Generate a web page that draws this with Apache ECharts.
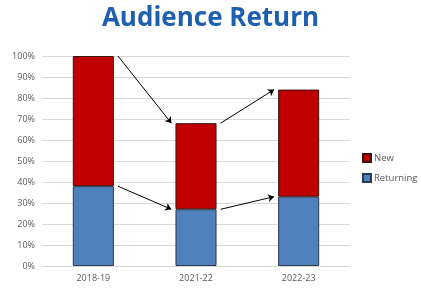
<!DOCTYPE html>
<html><head><meta charset="utf-8">
<script src="https://cdn.jsdelivr.net/npm/echarts@6/dist/echarts.min.js"></script>
<style>html,body{margin:0;padding:0;background:#fff}#c{width:421px;height:290px}</style>
</head><body><div id="c"></div>
<script>
var categories = ['2018-19', '2021-22', '2022-23'];
var returning = [0.38, 0.27, 0.33];
var newAud = [0.62, 0.41, 0.51];
var yTicks = [0, 0.1, 0.2, 0.3, 0.4, 0.5, 0.6, 0.7, 0.8, 0.9, 1.0];

var totals = returning.map(function (r, i) { return r + newAud[i]; });
var off = 0.24;
function arrows(vals) {
  var out = [];
  for (var i = 0; i < vals.length - 1; i++) {
    out.push([{ coord: [i + off, vals[i]] }, { coord: [i + 1 - off, vals[i + 1]] }]);
  }
  return out;
}
var arrowData = arrows(totals).concat(arrows(returning));

var chart = echarts.init(document.getElementById('c'), null, { renderer: 'canvas' });
chart.setOption({
  animation: false,
  title: {
    text: 'Audience Return', left: 'center', top: 1,
    textStyle: { fontFamily: 'Open Sans', fontWeight: 'bold', fontSize: 26, color: '#1F5FB0' }
  },
  legend: {
    orient: 'vertical', left: 362, top: 153, padding: 0, itemWidth: 8, itemHeight: 8, itemGap: 10,
    icon: 'rect',
    data: ['New', 'Returning'],
    textStyle: { fontFamily: 'Open Sans', fontSize: 9.5, color: '#595959', padding: [0, 0, 0, -2] }
  },
  grid: { left: 42, right: 71, top: 56, bottom: 24 },
  xAxis: [{
    type: 'category', data: categories,
    axisLine: { lineStyle: { color: '#d9d9d9' } }, axisTick: { show: false },
    axisLabel: { fontFamily: 'Open Sans', fontSize: 9, color: '#595959', margin: 8 }
  }, {
    type: 'value', min: -0.5, max: 2.5, show: false
  }],
  yAxis: {
    type: 'value', min: 0, max: 1, interval: 0.1,
    axisLine: { show: false }, axisTick: { show: false },
    splitLine: { lineStyle: { color: '#d9d9d9' } },
    axisLabel: {
      fontFamily: 'Open Sans', fontSize: 9, color: '#595959', margin: 7,
      formatter: function (v) { return Math.round(v * 100) + '%'; }
    }
  },
  series: [{
    name: 'Returning', type: 'bar', stack: 'a', barWidth: '40%', data: returning,
    itemStyle: { color: '#4F81BD', borderColor: '#2B3A4F', borderWidth: 1 }
  }, {
    name: 'New', type: 'bar', stack: 'a', barWidth: '40%', data: newAud,
    itemStyle: { color: '#C00000', borderColor: '#3A1010', borderWidth: 1 }
  }, {
    type: 'line', xAxisIndex: 1, data: [], silent: true,
    markLine: {
      silent: true, symbol: ['none', 'arrow'], symbolSize: 6,
      lineStyle: { color: '#000', type: 'solid', width: 1 },
      label: { show: false }, data: arrowData
    }
  }]
});
</script></body></html>
